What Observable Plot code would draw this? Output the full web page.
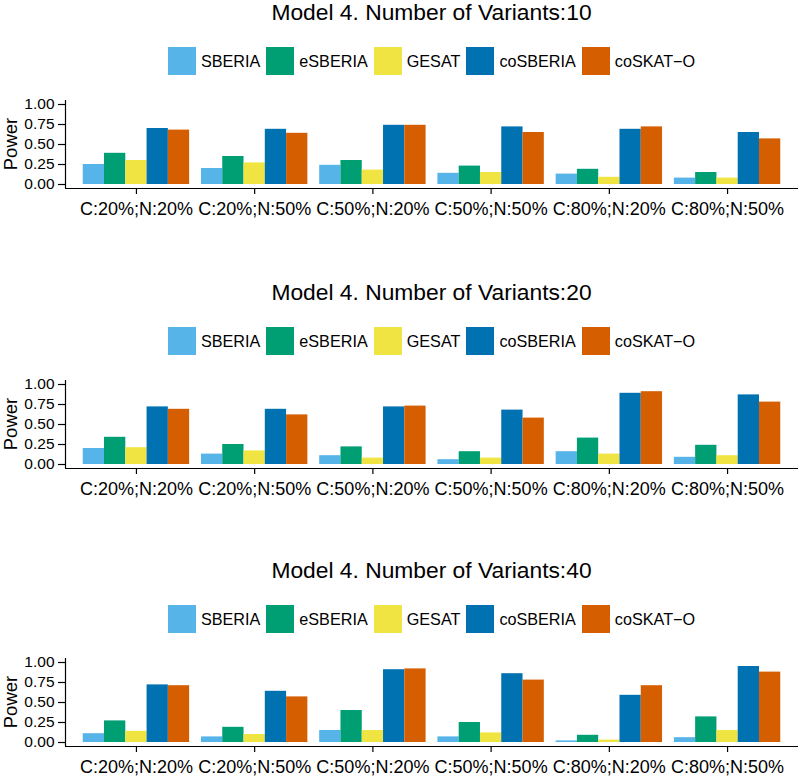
<!DOCTYPE html>
<html>
<head>
<meta charset="utf-8">
<script src="https://cdn.jsdelivr.net/npm/d3@7"></script>
<script src="https://cdn.jsdelivr.net/npm/@observablehq/plot@0.6"></script>
<style>
  html, body { margin: 0; padding: 0; background: #fff; }
  body { width: 800px; height: 776px; position: relative; overflow: hidden; font-family: "Liberation Sans", Arial, Helvetica, sans-serif; color: #000; }
  .panel { position: absolute; left: 0; width: 800px; height: 222px; }
  .title { position: absolute; top: 1px; left: 65px; width: 733px; text-align: center; font-size: 22.8px; line-height: 1; white-space: nowrap; }
  .legend { position: absolute; top: 47px; left: 65px; width: 733px; height: 28px; display: flex; justify-content: center; align-items: center; font-size: 16.2px; }
  .legend .item { display: flex; align-items: center; margin: 0 3px; }
  .legend .key { width: 28px; height: 28px; margin-right: 5px; }
  .plotwrap { position: absolute; top: 90px; left: 0; }
</style>
</head>
<body>
<script>
// ---- data ----
const categories = ["C:20%;N:20%", "C:20%;N:50%", "C:50%;N:20%", "C:50%;N:50%", "C:80%;N:20%", "C:80%;N:50%"];
const methods = ["SBERIA", "eSBERIA", "GESAT", "coSBERIA", "coSKAT\u2212O"];
const colors = ["#56B4E9", "#009E73", "#F0E442", "#0072B2", "#D55E00"];
const variants = [10, 20, 40];
const yTicks = [0, 0.25, 0.5, 0.75, 1];

// rows = methods (in order above), columns = categories
const power10 = [
  [0.25, 0.20, 0.24, 0.14, 0.13, 0.08],
  [0.39, 0.35, 0.30, 0.23, 0.19, 0.15],
  [0.30, 0.27, 0.18, 0.15, 0.09, 0.08],
  [0.70, 0.69, 0.74, 0.72, 0.69, 0.65],
  [0.68, 0.64, 0.74, 0.65, 0.72, 0.57]
];
const power20 = [
  [0.20, 0.13, 0.11, 0.06, 0.16, 0.09],
  [0.34, 0.25, 0.22, 0.16, 0.33, 0.24],
  [0.21, 0.17, 0.08, 0.08, 0.13, 0.11],
  [0.72, 0.69, 0.72, 0.68, 0.89, 0.87],
  [0.69, 0.62, 0.73, 0.58, 0.91, 0.78]
];
const power40 = [
  [0.11, 0.07, 0.15, 0.07, 0.02, 0.06],
  [0.27, 0.19, 0.40, 0.25, 0.09, 0.32],
  [0.14, 0.10, 0.15, 0.12, 0.03, 0.15],
  [0.72, 0.64, 0.91, 0.86, 0.59, 0.95],
  [0.71, 0.57, 0.92, 0.78, 0.71, 0.88]
];
const panels = [power10, power20, power40];
const panelTops = [0, 280, 558];

const FONT = '"Liberation Sans", Arial, Helvetica, sans-serif';
const dodgeWidth = 0.9; // ggplot position_dodge total width per group

function makePanel(nVar, matrix, top) {
  const data = [];
  methods.forEach((m, mi) => categories.forEach((c, ci) => {
    data.push({method: m, mi, cat: c, ci, value: matrix[mi][ci]});
  }));
  const barW = dodgeWidth / methods.length;

  const panel = document.createElement("div");
  panel.className = "panel";
  panel.style.top = top + "px";

  const title = document.createElement("div");
  title.className = "title";
  title.textContent = "Model 4. Number of Variants:" + nVar;
  panel.appendChild(title);

  const legend = document.createElement("div");
  legend.className = "legend";
  methods.forEach((m, i) => {
    const item = document.createElement("div");
    item.className = "item";
    const key = document.createElement("span");
    key.className = "key";
    key.style.background = colors[i];
    const lab = document.createElement("span");
    lab.textContent = m;
    item.appendChild(key); item.appendChild(lab);
    legend.appendChild(item);
  });
  panel.appendChild(legend);

  const plot = Plot.plot({
    width: 800, height: 128,
    marginTop: 10, marginBottom: 30, marginLeft: 65, marginRight: 2,
    style: {fontFamily: FONT, color: "#000", background: "transparent", overflow: "visible"},
    x: {domain: [0.4, categories.length + 0.6], axis: null},
    y: {domain: [-0.05, 1.05], axis: null},
    color: {domain: methods, range: colors},
    marks: [
      Plot.rect(data, {
        x1: d => d.ci + 1 - dodgeWidth / 2 + d.mi * barW,
        x2: d => d.ci + 1 - dodgeWidth / 2 + (d.mi + 1) * barW,
        y1: 0, y2: "value", fill: "method"
      }),
      Plot.ruleY([-0.05], {stroke: "#000", strokeWidth: 1.2}),
      Plot.ruleX([0.4], {stroke: "#000", strokeWidth: 1.2}),
      Plot.axisX({
        ticks: categories.map((c, i) => i + 1),
        tickFormat: i => categories[i - 1],
        tickSize: 6, tickPadding: 8, fontSize: 18, label: null, strokeWidth: 1.2
      }),
      Plot.axisY({
        ticks: yTicks, tickFormat: d3.format(".2f"),
        tickSize: 7, tickPadding: 4, fontSize: 15.5, label: null, strokeWidth: 1.2
      })
    ]
  });
  const sy = plot.scale("y");
  const yc = (sy.apply(-0.05) + sy.apply(1.05)) / 2;
  d3.select(plot).append("text")
    .attr("transform", `translate(17,${yc}) rotate(-90)`)
    .attr("text-anchor", "middle")
    .attr("fill", "#000")
    .style("font-size", "18.5px")
    .style("font-family", FONT)
    .text("Power");

  const wrap = document.createElement("div");
  wrap.className = "plotwrap";
  wrap.appendChild(plot);
  panel.appendChild(wrap);
  document.body.appendChild(panel);
}

panels.forEach((m, i) => makePanel(variants[i], m, panelTops[i]));
</script>
</body>
</html>
